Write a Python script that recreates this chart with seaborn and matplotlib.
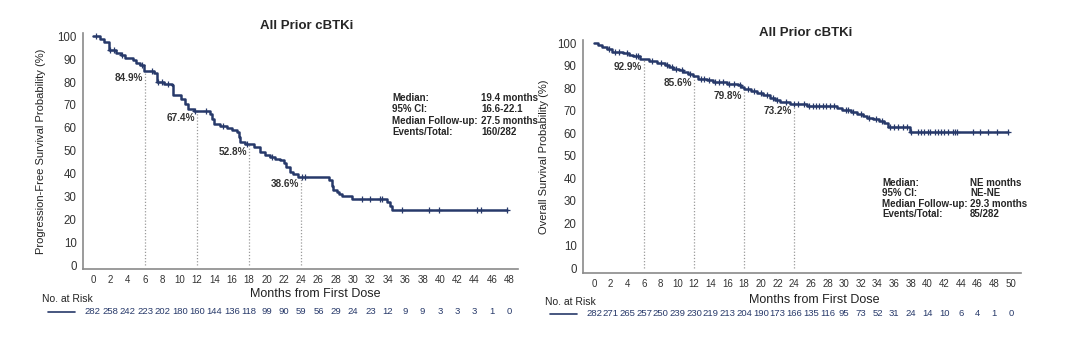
# -*- coding: utf-8 -*-

### KM curves, all prior cBTKi: PFS and OS ###

import numpy as np
import pandas as pd
import matplotlib
matplotlib.use("Agg")
import matplotlib.pyplot as plt
import matplotlib.transforms as mtransforms
import seaborn as sns

sns.set_style("white")
plt.rcParams['font.family'] = ['Liberation Sans', 'DejaVu Sans']

## Data ##

# PFS step curve: month of each drop, survival (%) after the drop
pfs_time = [0, 0.8, 1.3, 1.8, 2.7, 3.2, 3.7, 4.65, 5.0, 5.4, 5.9, 7.0, 7.35, 8.2, 9.1, 9.2,
            10.2, 10.6, 11.0, 11.6, 13.5, 13.7, 13.9, 14.6, 15.4, 16.0, 16.6, 16.8, 17.0, 17.5,
            18.6, 19.3, 19.8, 20.4, 21.0, 21.6, 22.0, 22.2, 22.7, 23.1, 23.6, 27.2, 27.5, 27.7,
            28.1, 28.4, 28.7, 29.9, 33.9, 34.2, 34.5, 47.7]
pfs_surv = [100, 99.0, 97.5, 94.0, 92.9, 92.0, 90.7, 89.5, 88.5, 87.3, 84.9, 84.0, 80.0, 79.3, 78.6, 74.2,
            72.5, 70.5, 68.4, 67.4, 66.2, 64.0, 61.9, 61.0, 60.0, 59.2, 58.2, 56.0, 53.8, 52.8,
            51.5, 49.5, 48.3, 47.3, 46.5, 45.9, 44.5, 42.9, 40.7, 40.0, 38.6, 37.0, 34.5, 33.0,
            32.0, 31.0, 30.1, 28.8, 27.5, 26.0, 24.2, 24.2]
pfs_censor = [0.3, 2.0, 2.4, 3.3, 5.6, 6.8, 7.5, 8.0, 8.6, 11.8, 13.0, 15.0, 17.8, 20.6,
              24.1, 24.5, 31.0, 31.9, 33.1, 33.3, 35.6, 38.7, 39.9, 44.3, 44.7, 47.7]

# OS step curve
os_time = [0, 0.5, 1.0, 1.5, 2.1, 3.5, 4.2, 4.7, 5.5, 5.9, 6.6, 7.5, 8.5, 9.0, 9.5, 10.2,
           10.7, 11.3, 11.9, 12.5, 13.5, 14.3, 15.9, 17.3, 17.6, 18.0, 18.8, 19.5, 20.3, 21.1,
           21.7, 22.3, 23.5, 25.0, 25.5, 29.1, 29.7, 30.8, 31.5, 32.2, 32.7, 33.5, 34.2, 34.8,
           35.3, 37.9, 49.6]
os_surv = [100, 99.3, 98.5, 97.6, 96.1, 95.7, 95.0, 94.3, 93.2, 92.9, 92.0, 91.2, 90.2, 89.4, 88.7, 88.0,
           87.2, 86.3, 85.6, 84.2, 83.5, 82.8, 82.1, 81.3, 80.4, 79.8, 78.8, 77.9, 77.0, 75.9,
           75.0, 73.9, 73.2, 72.8, 72.2, 71.3, 70.4, 69.5, 68.5, 67.6, 67.0, 66.3, 65.5, 64.6,
           63.0, 60.6, 60.6]
os_censor = [1.8, 2.5, 3.0, 4.0, 5.0, 5.3, 7.0, 8.0, 8.8, 9.3, 9.8, 10.5, 11.5, 12.8, 13.2,
             13.8, 14.5, 15.0, 15.5, 16.2, 16.8, 17.5, 18.5, 19.2, 20.0, 20.8, 21.5, 22.0, 23.0,
             24.0, 24.5, 25.2, 25.8, 26.2, 26.6, 27.0, 27.4, 27.8, 28.3, 28.8, 30.2, 30.5, 31.0,
             32.0, 33.0, 33.8, 34.5, 35.5, 36.0, 36.5, 37.0, 37.5, 38.0, 38.9, 39.2, 39.6, 40.0,
             40.3, 40.9, 41.3, 41.6, 42.0, 42.4, 43.1, 43.3, 43.5, 45.5, 46.3, 47.3, 48.3, 49.6]

# landmark estimates
pfs_mark_t = [6, 12, 18, 24]
pfs_mark_v = [84.9, 67.4, 52.8, 38.6]
os_mark_t = [6, 12, 18, 24]
os_mark_v = [92.9, 85.6, 79.8, 73.2]

# number at risk every 2 months
pfs_risk = [282, 258, 242, 223, 202, 180, 160, 144, 136, 118, 99, 90, 59, 56, 29, 24, 23, 12, 9, 9, 3, 3, 3, 1, 0]
os_risk = [282, 271, 265, 257, 250, 239, 230, 219, 213, 204, 190, 173, 166, 135, 116, 95, 73, 52, 31, 24, 14, 10, 6, 4, 1, 0]

pfs_stats = [("Median:", "19.4 months"), ("95% CI:", "16.6-22.1"),
             ("Median Follow-up:", "27.5 months"), ("Events/Total:", "160/282")]
os_stats = [("Median:", "NE months"), ("95% CI:", "NE-NE"),
            ("Median Follow-up:", "29.3 months"), ("Events/Total:", "85/282")]

navy = '#27396a'
grey = '#8a8a8a'
W, H = 1080, 350

fig = plt.figure(figsize=(W / 100, H / 100), dpi=100)


def px(x, y):
    return x / W, 1 - y / H


def km_panel(rect, t, s, cens, mk_t, mk_v, risk, xmax, xlim, ylim, ylab, stats, pos):
    ax = fig.add_axes(rect)
    curve = pd.DataFrame({'t': t, 's': s})
    sns.lineplot(data=curve, x='t', y='s', drawstyle='steps-post', estimator=None, sort=False,
                 color=navy, linewidth=1.8, ax=ax)
    # censor marks sit on the curve
    idx = np.searchsorted(np.array(t), np.array(cens), side='right') - 1
    cdf = pd.DataFrame({'t': cens, 's': np.array(s)[idx]})
    sns.scatterplot(data=cdf, x='t', y='s', marker='+', s=22, linewidth=0.9, color=navy, ax=ax, zorder=3)
    for mt, mv in zip(mk_t, mk_v):
        ax.plot([mt, mt], [0, mv], color='#9a9a9a', linestyle=(0, (1, 1.5)), linewidth=0.9, zorder=1)
        ax.text(mt - 0.25, mv - 3.3, f"{mv}%", ha='right', va='center', fontsize=7.2,
                fontweight='bold', color='#333333')
    ax.set_xlim(*xlim)
    ax.set_ylim(*ylim)
    ax.set_xticks(np.arange(0, xmax + 1, 2))
    ax.set_yticks(np.arange(0, 101, 10))
    ax.tick_params(axis='both', direction='out', length=3, width=0.8, color=grey,
                   labelsize=8.3, labelcolor='#333333', pad=1.5)
    ax.tick_params(axis='x', labelsize=7)
    sns.despine(ax=ax)
    for sp in ['left', 'bottom']:
        ax.spines[sp].set_color(grey)
        ax.spines[sp].set_linewidth(1.2)
    ax.set_xlabel('')
    ax.set_ylabel(ylab, fontsize=8, color='#222222')
    ax.yaxis.set_label_coords(pos['ylab_x'], 0.5)

    fig.text(*px(pos['title_x'], pos['title_y']), "All Prior cBTKi", ha='center', va='center',
             fontsize=9.5, fontweight='bold')
    fig.text(*px(pos['title_x'] + 8, pos['xlab_y']), "Months from First Dose", ha='center',
             va='center', fontsize=9, color='#222222')
    fig.text(*px(pos['risk_x'], pos['risk_lab_y']), "No. at Risk", ha='left', va='center',
             fontsize=7.5, color='#222222')
    fig.add_artist(plt.Line2D([pos['line'][0] / W, pos['line'][1] / W],
                              [1 - pos['risk_y'] / H] * 2, color=navy, linewidth=1.2))
    tr = mtransforms.blended_transform_factory(ax.transData, fig.transFigure)
    for xi, n in zip(np.arange(0, xmax + 1, 2), risk):
        ax.text(xi, 1 - pos['risk_y'] / H, str(n), transform=tr, ha='center', va='center',
                fontsize=6.8, color=navy)
    for i, (k, v) in enumerate(stats):
        y = pos['stats_y'] + i * pos['stats_dy']
        fig.text(*px(pos['stats_x'], y), k, ha='left', va='center', fontsize=7, fontweight='bold')
        fig.text(*px(pos['stats_x2'], y), v, ha='left', va='center', fontsize=7, fontweight='bold')
    return ax


km_panel([83 / W, 1 - 269 / H, 435 / W, 236 / H], pfs_time, pfs_surv, pfs_censor,
         pfs_mark_t, pfs_mark_v, pfs_risk, 48, (-1.15, 49.0), (-1.75, 101.5),
         "Progression-Free Survival Probability (%)", pfs_stats,
         dict(ylab_x=-0.085, title_x=307, title_y=26, xlab_y=294, risk_x=42, risk_lab_y=299,
              risk_y=312, line=(48, 75), stats_x=392, stats_x2=481, stats_y=98, stats_dy=11.3))

km_panel([583 / W, 1 - 273 / H, 438 / W, 233 / H], os_time, os_surv, os_censor,
         os_mark_t, os_mark_v, os_risk, 50, (-1.32, 51.2), (-2.2, 101.5),
         "Overall Survival Probability (%)", os_stats,
         dict(ylab_x=-0.078, title_x=806, title_y=33, xlab_y=300, risk_x=545, risk_lab_y=302,
              risk_y=314, line=(550, 577), stats_x=882, stats_x2=970, stats_y=183, stats_dy=10.4))

plt.savefig("out.png", dpi=100)
